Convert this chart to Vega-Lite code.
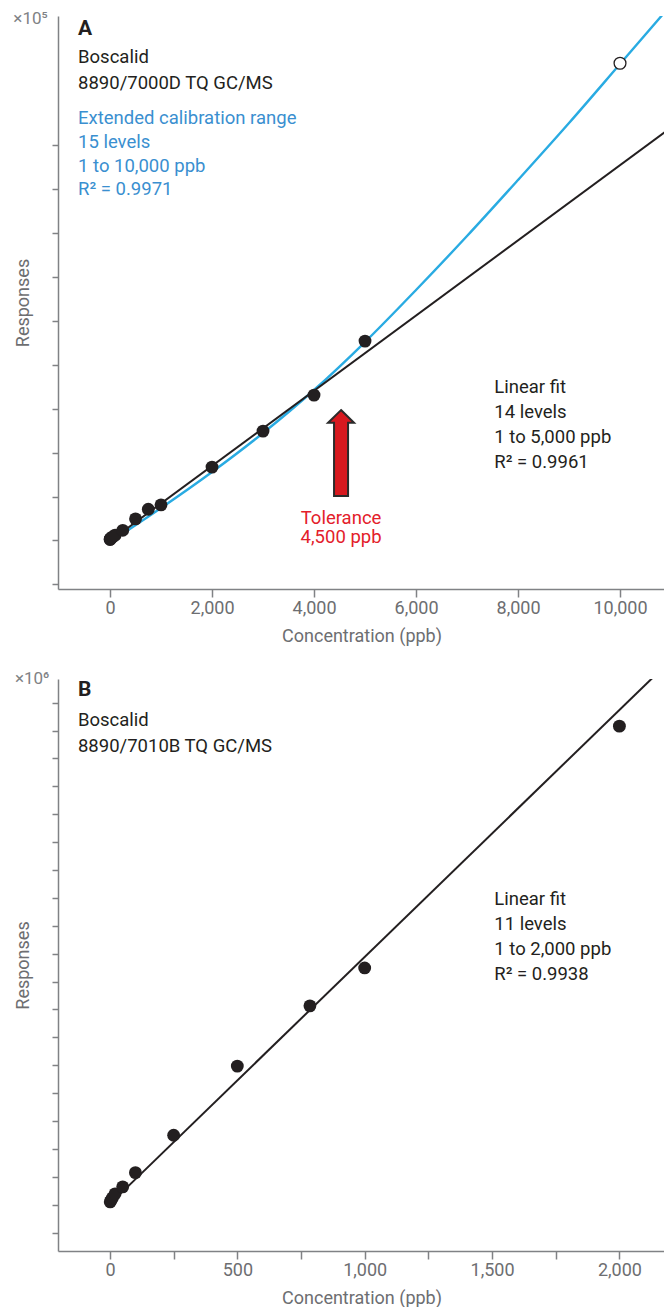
{
  "$schema": "https://vega.github.io/schema/vega-lite/v6.json",
  "background": "white",
  "padding": {"left": 13, "top": 10, "right": 0, "bottom": 0},
  "autosize": {"type": "pad"},
  "bounds": "flush",
  "spacing": 90,
  "config": {
    "font": "Roboto",
    "view": {"stroke": null},
    "axis": {
      "grid": false,
      "domainColor": "#808285",
      "domainWidth": 1.5,
      "tickColor": "#808285",
      "tickWidth": 1.5,
      "labelColor": "#6d6e71",
      "titleColor": "#6d6e71",
      "labelFont": "Roboto",
      "titleFont": "Roboto",
      "labelFontSize": 18,
      "titleFontSize": 18,
      "titleFontWeight": "normal"
    },
    "axisX": {"tickSize": 8, "labelPadding": 2, "titlePadding": 10},
    "axisY": {"tickSize": 6, "labels": false, "titlePadding": 19}
  },
  "datasets": {
    "ptsA": [
      {"conc": 1, "resp": 1.02}, {"conc": 5, "resp": 1.03}, {"conc": 10, "resp": 1.04},
      {"conc": 20, "resp": 1.05}, {"conc": 50, "resp": 1.08}, {"conc": 100, "resp": 1.12},
      {"conc": 250, "resp": 1.23}, {"conc": 500, "resp": 1.49}, {"conc": 750, "resp": 1.71},
      {"conc": 1000, "resp": 1.81}, {"conc": 2000, "resp": 2.67}, {"conc": 3000, "resp": 3.49},
      {"conc": 4000, "resp": 4.31}, {"conc": 5000, "resp": 5.54}, {"conc": 10000, "resp": 11.87}
    ],
    "curveA": [
      {"conc": 0, "resp": 0.964}, {"conc": 1000, "resp": 1.738}, {"conc": 2000, "resp": 2.558},
      {"conc": 3000, "resp": 3.446}, {"conc": 4000, "resp": 4.426}, {"conc": 5000, "resp": 5.519},
      {"conc": 6000, "resp": 6.704}, {"conc": 7000, "resp": 7.934}, {"conc": 8000, "resp": 9.21},
      {"conc": 9000, "resp": 10.508}, {"conc": 10000, "resp": 11.852}, {"conc": 11000, "resp": 13.2}
    ],
    "lineA": [{"conc": 0, "resp": 0.986}, {"conc": 10880, "resp": 10.3}],
    "arrowA": [{"conc": 4530, "resp": 2.99}],
    "notesA": [
      {"conc": -1221, "resp": 12.756, "text": "×10⁵", "kind": "scale"},
      {"conc": -627, "resp": 12.51, "text": "A", "kind": "label"},
      {"conc": -627, "resp": 11.87, "text": "Boscalid", "kind": "black"},
      {"conc": -627, "resp": 11.28, "text": "8890/7000D TQ GC/MS", "kind": "black"},
      {"conc": -627, "resp": 10.48, "text": "Extended calibration range", "kind": "blue"},
      {"conc": -627, "resp": 9.94, "text": "15 levels", "kind": "blue"},
      {"conc": -627, "resp": 9.40, "text": "1 to 10,000 ppb", "kind": "blue"},
      {"conc": -627, "resp": 8.86, "text": "R² = 0.9971", "kind": "blue"},
      {"conc": 7535, "resp": 4.36, "text": "Linear fit", "kind": "black"},
      {"conc": 7535, "resp": 3.79, "text": "14 levels", "kind": "black"},
      {"conc": 7535, "resp": 3.22, "text": "1 to 5,000 ppb", "kind": "black"},
      {"conc": 7535, "resp": 2.65, "text": "R² = 0.9961", "kind": "black"},
      {"conc": 4530, "resp": 1.38, "text": ["Tolerance", "4,500 ppb"], "kind": "red"}
    ],
    "ptsB": [
      {"conc": 1, "resp": 1.1}, {"conc": 5, "resp": 1.17}, {"conc": 10, "resp": 1.25},
      {"conc": 20, "resp": 1.39}, {"conc": 50, "resp": 1.64}, {"conc": 100, "resp": 2.15},
      {"conc": 250, "resp": 3.49}, {"conc": 500, "resp": 5.97}, {"conc": 785, "resp": 8.13},
      {"conc": 1000, "resp": 9.49}, {"conc": 2000, "resp": 18.16}
    ],
    "lineB": [{"conc": 0, "resp": 1.029}, {"conc": 2200, "resp": 20.51}],
    "notesB": [
      {"conc": -238, "resp": 19.656, "text": "×10⁶", "kind": "scale"},
      {"conc": -125.6, "resp": 19.23, "text": "B", "kind": "label"},
      {"conc": -125.6, "resp": 18.15, "text": "Boscalid", "kind": "black"},
      {"conc": -125.6, "resp": 17.25, "text": "8890/7010B TQ GC/MS", "kind": "black"},
      {"conc": 1508.8, "resp": 11.76, "text": "Linear fit", "kind": "black"},
      {"conc": 1508.8, "resp": 10.864, "text": "11 levels", "kind": "black"},
      {"conc": 1508.8, "resp": 9.968, "text": "1 to 2,000 ppb", "kind": "black"},
      {"conc": 1508.8, "resp": 9.072, "text": "R² = 0.9938", "kind": "black"}
    ]
  },
  "vconcat": [
    {
      "width": 607,
      "height": 573,
      "encoding": {
        "x": {
          "field": "conc", "type": "quantitative",
          "scale": {"domain": [-1020, 10882], "nice": false, "zero": false},
          "axis": {"values": [0, 2000, 4000, 6000, 8000, 10000], "labelExpr": "format(datum.value, ',d')", "title": "Concentration (ppb)"}
        },
        "y": {
          "field": "resp", "type": "quantitative",
          "scale": {"domain": [-0.107, 12.946], "nice": false, "zero": false},
          "axis": {"values": [0, 1, 2, 3, 4, 5, 6, 7, 8, 9, 10], "title": "Responses"}
        }
      },
      "layer": [
        {"data": {"name": "curveA"}, "mark": {"type": "line", "color": "#29abe2", "strokeWidth": 2.4, "clip": true, "interpolate": "monotone"}},
        {"data": {"name": "lineA"}, "mark": {"type": "line", "color": "#231f20", "strokeWidth": 2, "clip": true}},
        {"data": {"name": "ptsA"}, "transform": [{"filter": "datum.conc <= 5000"}], "mark": {"type": "circle", "color": "#231f20", "size": 165, "opacity": 1}},
        {"data": {"name": "ptsA"}, "transform": [{"filter": "datum.conc > 5000"}], "mark": {"type": "point", "shape": "circle", "fill": "white", "fillOpacity": 1, "stroke": "#231f20", "strokeWidth": 1.3, "size": 140, "opacity": 1}},
        {"data": {"name": "arrowA"}, "mark": {"type": "point", "shape": "M0,-1 L0.302,-0.705 L0.163,-0.705 L0.163,1 L-0.163,1 L-0.163,-0.705 L-0.302,-0.705 Z", "size": 7396, "fill": "#d7191f", "fillOpacity": 1, "stroke": "#2b2b2b", "strokeWidth": 2, "opacity": 1}},
        {"data": {"name": "notesA"}, "transform": [{"filter": "datum.kind == 'scale'"}], "mark": {"type": "text", "align": "right", "baseline": "alphabetic", "fontSize": 17, "color": "#808285"}, "encoding": {"text": {"field": "text"}}},
        {"data": {"name": "notesA"}, "transform": [{"filter": "datum.kind == 'label'"}], "mark": {"type": "text", "align": "left", "baseline": "alphabetic", "fontSize": 21, "fontWeight": "bold", "color": "#231f20"}, "encoding": {"text": {"field": "text"}}},
        {"data": {"name": "notesA"}, "transform": [{"filter": "datum.kind == 'black'"}], "mark": {"type": "text", "align": "left", "baseline": "alphabetic", "fontSize": 18.5, "color": "#231f20"}, "encoding": {"text": {"field": "text"}}},
        {"data": {"name": "notesA"}, "transform": [{"filter": "datum.kind == 'blue'"}], "mark": {"type": "text", "align": "left", "baseline": "alphabetic", "fontSize": 18.5, "color": "#3a8fd0"}, "encoding": {"text": {"field": "text"}}},
        {"data": {"name": "notesA"}, "transform": [{"filter": "datum.kind == 'red'"}], "mark": {"type": "text", "align": "center", "baseline": "alphabetic", "fontSize": 18.5, "lineHeight": 19.5, "color": "#e3202a"}, "encoding": {"text": {"field": "text"}}}
      ]
    },
    {
      "width": 607,
      "height": 572,
      "encoding": {
        "x": {
          "field": "conc", "type": "quantitative",
          "scale": {"domain": [-204, 2179], "nice": false, "zero": false},
          "axis": {"values": [0, 250, 500, 750, 1000, 1250, 1500, 1750, 2000], "labelExpr": "datum.value % 500 === 0 ? format(datum.value, ',d') : ''", "title": "Concentration (ppb)"}
        },
        "y": {
          "field": "resp", "type": "quantitative",
          "scale": {"domain": [-0.66, 19.85], "nice": false, "zero": false},
          "axis": {"values": [0, 1, 2, 3, 4, 5, 6, 7, 8, 9, 10, 11, 12, 13, 14, 15, 16, 17, 18, 19], "title": "Responses"}
        }
      },
      "layer": [
        {"data": {"name": "lineB"}, "mark": {"type": "line", "color": "#231f20", "strokeWidth": 2, "clip": true}},
        {"data": {"name": "ptsB"}, "mark": {"type": "circle", "color": "#231f20", "size": 165, "opacity": 1}},
        {"data": {"name": "notesB"}, "transform": [{"filter": "datum.kind == 'scale'"}], "mark": {"type": "text", "align": "right", "baseline": "alphabetic", "fontSize": 17, "color": "#808285"}, "encoding": {"text": {"field": "text"}}},
        {"data": {"name": "notesB"}, "transform": [{"filter": "datum.kind == 'label'"}], "mark": {"type": "text", "align": "left", "baseline": "alphabetic", "fontSize": 21, "fontWeight": "bold", "color": "#231f20"}, "encoding": {"text": {"field": "text"}}},
        {"data": {"name": "notesB"}, "transform": [{"filter": "datum.kind == 'black'"}], "mark": {"type": "text", "align": "left", "baseline": "alphabetic", "fontSize": 18.5, "color": "#231f20"}, "encoding": {"text": {"field": "text"}}}
      ]
    }
  ]
}
